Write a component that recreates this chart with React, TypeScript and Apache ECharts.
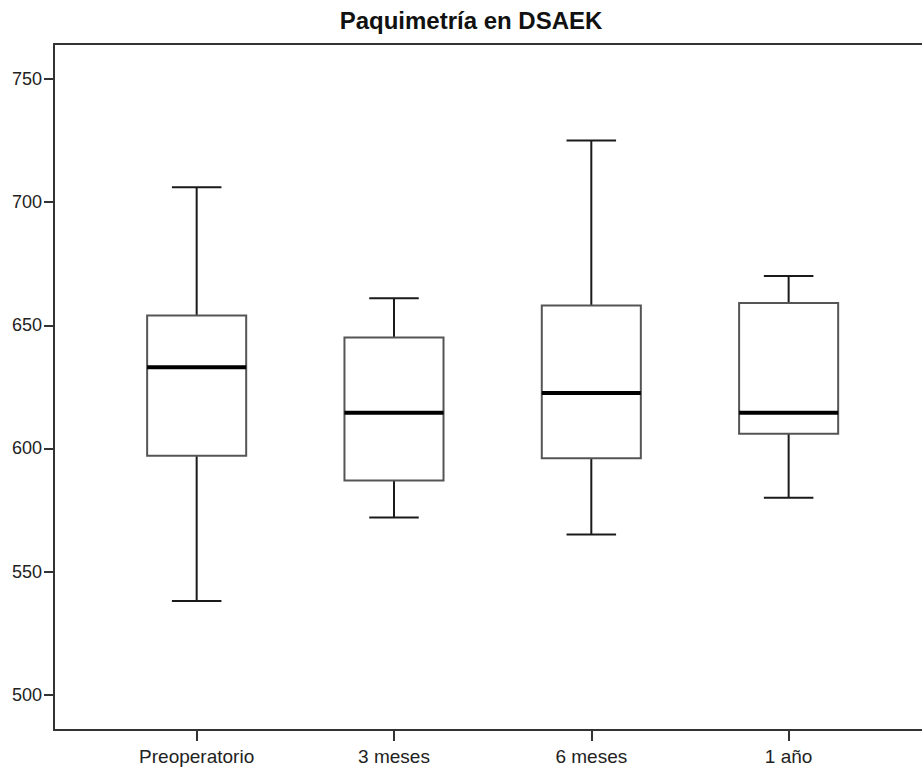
import React, { useEffect, useRef } from "react";
import * as echarts from "echarts";

const categories = ["Preoperatorio", "3 meses", "6 meses", "1 año"];
const minValues = [538, 572, 565, 580];
const q1Values = [597, 587, 596, 606];
const medianValues = [633, 614.5, 622.5, 614.5];
const q3Values = [654, 645, 658, 659];
const maxValues = [706, 661, 725, 670];
const yTicks = [500, 550, 600, 650, 700, 750];
const titleText = "Paquimetría en DSAEK";

export default function App() {
  const ref = useRef<HTMLDivElement>(null);
  useEffect(() => {
    if (!ref.current) return;
    const chart = echarts.init(ref.current, null, { renderer: "svg" });
    const data = categories.map((_, i) => [i, minValues[i], q1Values[i], medianValues[i], q3Values[i], maxValues[i]]);
    const font = "'Liberation Sans', Arial, sans-serif";
    chart.setOption({
      animation: false,
      backgroundColor: "#ffffff",
      title: {
        text: titleText,
        left: 466,
        top: 3,
        textAlign: "center",
        textStyle: { fontFamily: font, fontSize: 24, fontWeight: "bold", color: "#111" },
      },
      grid: [
        { left: 54, right: -10, top: 44, bottom: 41 },
        { left: 98, right: 34.7, top: 79, bottom: 76.3 },
      ],
      xAxis: [
        {
          gridIndex: 0, type: "value", min: 0, max: 1, position: "bottom",
          axisLine: { show: true, lineStyle: { color: "#333", width: 2 } },
          axisTick: { show: false }, axisLabel: { show: false }, splitLine: { show: false },
        },
        {
          gridIndex: 0, type: "value", min: 0, max: 1, position: "top",
          axisLine: { show: true, lineStyle: { color: "#333", width: 2 } },
          axisTick: { show: false }, axisLabel: { show: false }, splitLine: { show: false },
        },
        {
          gridIndex: 1, type: "category", data: categories, position: "bottom", offset: 35.3,
          boundaryGap: true,
          axisLine: { show: false },
          axisTick: { show: true, alignWithLabel: true, length: 11, lineStyle: { color: "#333", width: 2 } },
          axisLabel: { fontFamily: font, fontSize: 19, color: "#222", margin: 17 },
          splitLine: { show: false },
        },
      ],
      yAxis: [
        {
          gridIndex: 0, type: "value", min: 0, max: 1,
          axisLine: { show: true, lineStyle: { color: "#333", width: 2 } },
          axisTick: { show: false }, axisLabel: { show: false }, splitLine: { show: false },
        },
        {
          gridIndex: 1, type: "value", min: yTicks[0], max: yTicks[yTicks.length - 1], interval: 50,
          offset: 44,
          axisLine: { show: false },
          axisTick: { show: true, length: 10, lineStyle: { color: "#333", width: 2 } },
          axisLabel: { fontFamily: font, fontSize: 18, color: "#222", margin: 12 },
          splitLine: { show: false },
        },
      ],
      series: [
        {
          type: "custom",
          xAxisIndex: 2,
          yAxisIndex: 1,
          encode: { x: 0, y: [1, 2, 3, 4, 5] },
          data,
          renderItem: (params: any, api: any) => {
            const i = api.value(0);
            const pMin = api.coord([i, api.value(1)]);
            const pQ1 = api.coord([i, api.value(2)]);
            const pMed = api.coord([i, api.value(3)]);
            const pQ3 = api.coord([i, api.value(4)]);
            const pMax = api.coord([i, api.value(5)]);
            const band = api.size([1, 0])[0];
            const hb = band * 0.251;
            const hc = hb / 2;
            const cx = pMed[0];
            const wStyle = { stroke: "#1a1a1a", lineWidth: 2 };
            return {
              type: "group",
              children: [
                { type: "line", shape: { x1: cx, y1: pQ3[1], x2: cx, y2: pMax[1] }, style: wStyle },
                { type: "line", shape: { x1: cx - hc, y1: pMax[1], x2: cx + hc, y2: pMax[1] }, style: wStyle },
                { type: "line", shape: { x1: cx, y1: pQ1[1], x2: cx, y2: pMin[1] }, style: wStyle },
                { type: "line", shape: { x1: cx - hc, y1: pMin[1], x2: cx + hc, y2: pMin[1] }, style: wStyle },
                {
                  type: "rect",
                  shape: { x: cx - hb, y: pQ3[1], width: hb * 2, height: pQ1[1] - pQ3[1] },
                  style: { fill: "#ffffff", stroke: "#555555", lineWidth: 2 },
                },
                { type: "line", shape: { x1: cx - hb, y1: pMed[1], x2: cx + hb, y2: pMed[1] }, style: { stroke: "#000", lineWidth: 4 } },
              ],
            };
          },
        },
      ],
    });
    return () => chart.dispose();
  }, []);
  return <div ref={ref} style={{ width: 922, height: 771, position: "absolute", left: 0, top: 0 }} />;
}
